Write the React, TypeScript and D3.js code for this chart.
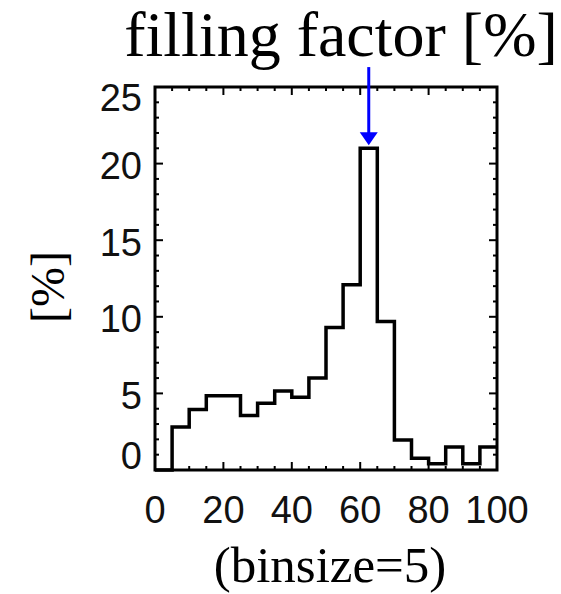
import React from "react";
import * as d3 from "d3";

const binStarts = [0, 5, 10, 15, 20, 25, 30, 35, 40, 45, 50, 55, 60, 65, 70, 75, 80, 85, 90, 95];
const binValues = [0, 2.8, 3.95, 4.85, 4.85, 3.55, 4.35, 5.15, 4.75, 6.0, 9.3, 12.1, 21.0, 9.7, 1.96, 0.76, 0.4, 1.5, 0.4, 1.5];
const binSize = 5;
const xTicks = [0, 20, 40, 60, 80, 100];
const yTicks = [0, 5, 10, 15, 20, 25];
const arrowX = 62.5;
const arrowFrom = 26.3;
const arrowTo = 21.2;
const titleText = "filling factor [%]";
const yLabelText = "[%]";
const xLabelText = "(binsize=5)";

export default function App() {
  const W = 561, H = 594;
  const left = 155, right = 497, top = 87, bottom = 470;
  const x = d3.scaleLinear().domain([0, 100]).range([left, right]);
  const y = d3.scaleLinear().domain([0, 25]).range([bottom, top]);

  const pts: [number, number][] = [];
  binStarts.forEach((s, i) => {
    pts.push([x(s), y(binValues[i])]);
    pts.push([x(s + binSize), y(binValues[i])]);
  });
  const pathD = d3.line()(pts) as string;

  const xMinor = d3.range(0, 101, 5);
  const yMinor = d3.range(0, 26, 1);
  const majLen = 8, minLen = 4;
  const sans = "'Liberation Sans', Arial, Helvetica, sans-serif";
  const serif = "'Liberation Serif', 'Times New Roman', serif";

  const yLabelDy = (v: number) => (v === 0 ? -15 : v === 25 ? 10 : 2);

  const ax = x(arrowX);
  const ay1 = y(arrowFrom);
  const ay2 = y(arrowTo);
  const headH = 13, headW = 9;

  return (
    <svg width={W} height={H} style={{ position: "absolute", left: 0, top: 0, background: "#fff" }}>
      <rect x={0} y={0} width={W} height={H} fill="#fff" />
      <text x={341} y={56} textAnchor="middle" fontFamily={serif} fontSize={64} fill="#000">
        {titleText}
      </text>
      <g stroke="#000" strokeWidth={2}>
        {xMinor.map((v) => {
          const len = v % 20 === 0 ? majLen : minLen;
          return (
            <g key={"xt" + v}>
              <line x1={x(v)} x2={x(v)} y1={bottom} y2={bottom - len} />
              <line x1={x(v)} x2={x(v)} y1={top} y2={top + len} />
            </g>
          );
        })}
        {yMinor.map((v) => {
          const len = v % 5 === 0 ? majLen : minLen;
          return (
            <g key={"yt" + v}>
              <line x1={left} x2={left + len} y1={y(v)} y2={y(v)} />
              <line x1={right} x2={right - len} y1={y(v)} y2={y(v)} />
            </g>
          );
        })}
      </g>
      <path d={pathD} fill="none" stroke="#000" strokeWidth={3.5} strokeLinejoin="miter" />
      <rect x={left} y={top} width={right - left} height={bottom - top} fill="none" stroke="#000" strokeWidth={3} />
      {xTicks.map((v) => (
        <text key={"xl" + v} x={x(v)} y={523} textAnchor="middle" fontFamily={sans} fontSize={38} fill="#111">
          {v}
        </text>
      ))}
      {yTicks.map((v) => (
        <text
          key={"yl" + v}
          x={142}
          y={y(v) + yLabelDy(v)}
          dy="0.36em"
          textAnchor="end"
          fontFamily={sans}
          fontSize={38}
          fill="#111"
        >
          {v}
        </text>
      ))}
      <text
        transform={`translate(64, 287) rotate(-90)`}
        textAnchor="middle"
        fontFamily={serif}
        fontSize={48}
        fill="#000"
      >
        {yLabelText}
      </text>
      <text x={330} y={582} textAnchor="middle" fontFamily={serif} fontSize={51} fill="#000">
        {xLabelText}
      </text>
      <line x1={ax} x2={ax} y1={ay1} y2={ay2 - headH + 1} stroke="#0000ff" strokeWidth={3} />
      <path
        d={`M${ax - headW},${ay2 - headH} L${ax + headW},${ay2 - headH} L${ax},${ay2} Z`}
        fill="#0000ff"
      />
    </svg>
  );
}
